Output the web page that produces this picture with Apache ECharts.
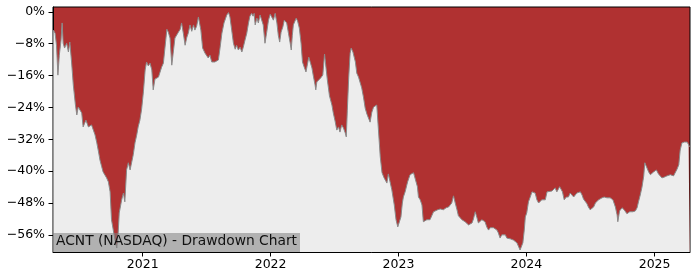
<!DOCTYPE html>
<html>
<head>
<meta charset="utf-8">
<script src="https://cdn.jsdelivr.net/npm/echarts@6/dist/echarts.min.js"></script>
<style>
html,body{margin:0;padding:0;background:#fff;}
#chart{width:700px;height:280px;}
</style>
</head>
<body>
<div id="chart"></div>
<script>
const titleText = 'ACNT (NASDAQ) - Drawdown Chart';
const yTicks = [0, -8, -16, -24, -32, -40, -48, -56];
const yearTicks = [2021, 2022, 2023, 2024, 2025];

const dates = [
'2020-04-21','2020-04-26','2020-04-30','2020-05-04','2020-05-08','2020-05-13','2020-05-16','2020-05-19','2020-05-23','2020-05-29',
'2020-06-03','2020-06-07','2020-06-12','2020-06-17','2020-06-23','2020-06-27','2020-07-01','2020-07-06','2020-07-11','2020-07-15',
'2020-07-23','2020-07-30','2020-08-08','2020-08-13','2020-08-18','2020-08-23','2020-08-28','2020-09-01','2020-09-06','2020-09-10',
'2020-09-15','2020-09-20','2020-09-25','2020-09-30','2020-10-04','2020-10-09','2020-10-14','2020-10-19','2020-10-21','2020-10-23',
'2020-10-26','2020-11-02','2020-11-07','2020-11-11','2020-11-16','2020-11-21','2020-11-26','2020-12-01','2020-12-05','2020-12-10',
'2020-12-15','2020-12-19','2020-12-24','2020-12-29','2021-01-03','2021-01-08','2021-01-12','2021-01-17','2021-01-22','2021-01-27',
'2021-01-31','2021-02-05','2021-02-10','2021-02-15','2021-02-19','2021-02-24','2021-03-01','2021-03-06','2021-03-11','2021-03-15',
'2021-03-20','2021-03-25','2021-03-29','2021-04-03','2021-04-08','2021-04-13','2021-04-18','2021-04-22','2021-04-27','2021-05-02',
'2021-05-07','2021-05-11','2021-05-16','2021-05-21','2021-05-26','2021-05-30','2021-06-04','2021-06-09','2021-06-12','2021-06-16',
'2021-06-21','2021-06-28','2021-07-03','2021-07-07','2021-07-12','2021-07-17','2021-07-22','2021-07-26','2021-07-31','2021-08-05',
'2021-08-10','2021-08-15','2021-08-21','2021-08-29','2021-09-03','2021-09-07','2021-09-12','2021-09-17','2021-09-22','2021-09-26',
'2021-10-01','2021-10-06','2021-10-11','2021-10-15','2021-10-20','2021-10-25','2021-10-30','2021-11-03','2021-11-08','2021-11-12',
'2021-11-15','2021-11-18','2021-11-23','2021-11-27','2021-12-02','2021-12-07','2021-12-11','2021-12-16','2021-12-21','2021-12-26',
'2021-12-31','2022-01-04','2022-01-09','2022-01-14','2022-01-19','2022-01-23','2022-01-27','2022-01-31','2022-02-05','2022-02-09',
'2022-02-16','2022-02-21','2022-02-26','2022-03-01','2022-03-04','2022-03-07','2022-03-15','2022-03-19','2022-03-24','2022-03-29',
'2022-04-02','2022-04-07','2022-04-12','2022-04-16','2022-04-20','2022-04-25','2022-04-29','2022-05-03','2022-05-08','2022-05-10',
'2022-05-13','2022-05-18','2022-05-24','2022-05-30','2022-06-04','2022-06-08','2022-06-12','2022-06-18','2022-06-25','2022-06-29',
'2022-07-04','2022-07-09','2022-07-14','2022-07-18','2022-07-23','2022-07-28','2022-08-02','2022-08-05','2022-08-08','2022-08-12',
'2022-08-16','2022-08-19','2022-08-24','2022-08-27','2022-08-31','2022-09-04','2022-09-09','2022-09-14','2022-09-18','2022-09-23',
'2022-09-28','2022-10-03','2022-10-07','2022-10-12','2022-10-17','2022-10-22','2022-10-26','2022-10-31','2022-11-05','2022-11-10',
'2022-11-15','2022-11-21','2022-11-29','2022-12-03','2022-12-07','2022-12-13','2022-12-20','2022-12-25','2022-12-30','2023-01-03',
'2023-01-08','2023-01-12','2023-01-15','2023-01-20','2023-01-27','2023-02-03','2023-02-08','2023-02-13','2023-02-18','2023-02-24',
'2023-02-27','2023-03-04','2023-03-09','2023-03-13','2023-03-18','2023-03-23','2023-03-28','2023-04-01','2023-04-06','2023-04-11',
'2023-04-16','2023-04-23','2023-04-30','2023-05-09','2023-05-17','2023-05-24','2023-05-29','2023-06-02','2023-06-07','2023-06-12',
'2023-06-17','2023-06-21','2023-06-26','2023-07-01','2023-07-10','2023-07-20','2023-07-25','2023-07-30','2023-08-03','2023-08-08',
'2023-08-13','2023-08-17','2023-08-22','2023-08-27','2023-09-01','2023-09-05','2023-09-10','2023-09-15','2023-09-20','2023-09-25',
'2023-09-29','2023-10-04','2023-10-09','2023-10-13','2023-10-18','2023-10-23','2023-10-28','2023-11-02','2023-11-06','2023-11-11',
'2023-11-16','2023-11-25','2023-11-30','2023-12-05','2023-12-10','2023-12-14','2023-12-19','2023-12-22','2023-12-26','2023-12-29',
'2024-01-02','2024-01-07','2024-01-12','2024-01-17','2024-01-21','2024-01-26','2024-01-31','2024-02-05','2024-02-10','2024-02-14',
'2024-02-24','2024-02-29','2024-03-04','2024-03-14','2024-03-19','2024-03-23','2024-03-28','2024-04-05','2024-04-09','2024-04-13',
'2024-04-18','2024-04-24','2024-04-30','2024-05-05','2024-05-10','2024-05-15','2024-05-20','2024-05-24','2024-05-29','2024-06-03',
'2024-06-08','2024-06-12','2024-06-17','2024-06-22','2024-06-26','2024-07-01','2024-07-06','2024-07-11','2024-07-16','2024-07-20',
'2024-07-25','2024-08-04','2024-08-10','2024-08-18','2024-08-27','2024-09-04','2024-09-11','2024-09-16','2024-09-18','2024-09-23',
'2024-09-30','2024-10-06','2024-10-14','2024-10-22','2024-10-31','2024-11-07','2024-11-12','2024-11-16','2024-11-21','2024-11-26',
'2024-12-01','2024-12-04','2024-12-08','2024-12-15','2024-12-20','2024-12-25','2024-12-29','2025-01-06','2025-01-12','2025-01-17',
'2025-01-22','2025-01-29','2025-02-05','2025-02-15','2025-02-24','2025-03-01','2025-03-06','2025-03-11','2025-03-15','2025-03-20',
'2025-03-27','2025-04-04','2025-04-08','2025-04-11'
];

const drawdown = [
-4.6,-5.4,-8.4,-15.9,-10.9,-7.1,-2.8,-7.9,-9.1,-7.9,
-10.1,-7.6,-12.6,-18.4,-23.4,-25.9,-23.9,-23.4,-25.4,-28.9,
-27.2,-28.9,-28.4,-28.9,-30.9,-32.9,-35.2,-37.2,-38.9,-40.2,
-40.4,-41.7,-42.7,-45.2,-52.2,-54.8,-57.3,-59.3,-59.8,-55.5,
-50.5,-47.2,-45.5,-47.7,-39.7,-37.9,-39.7,-39.7,-35.9,-32.9,
-30.9,-28.9,-27.2,-24.4,-20.1,-14.6,-12.6,-13.6,-12.9,-14.6,
-19.6,-16.9,-17.4,-16.4,-16.1,-13.9,-12.9,-12.6,-4.4,-5.1,
-6.6,-13.4,-10.4,-6.6,-6.1,-5.1,-4.4,-2.8,-5.4,-8.4,
-6.4,-5.4,-3.3,-4.9,-3.3,-4.6,-3.6,-1.3,-0.8,-4.6,
-9.1,-10.4,-10.9,-11.6,-10.9,-12.6,-13.1,-12.6,-12.9,-12.1,
-8.9,-5.4,-2.8,-0.8,-0.2,-1.3,-4.6,-7.9,-9.4,-8.4,
-9.6,-8.9,-10.1,-8.9,-7.1,-5.4,-2.8,-1.1,-0.4,-1.1,
-0.4,-3.3,-1.6,-2.8,-0.8,-0.5,-3.3,-7.9,-5.1,-2.1,
-0.6,-0.4,-2.1,-0.4,-2.8,-5.9,-7.6,-5.1,-3.8,-2.1,
-2.8,-5.4,-7.9,-9.6,-5.9,-3.3,-1.6,-2.3,-4.1,-7.9,
-12.6,-13.9,-15.1,-14.6,-11.4,-12.9,-14.1,-16.1,-18.4,-19.6,
-17.6,-17.1,-16.6,-15.9,-10.6,-13.9,-17.1,-21.1,-23.4,-25.4,
-27.4,-29.7,-28.9,-30.2,-28.4,-29.2,-30.4,-31.4,-24.7,-16.4,
-10.4,-9.1,-10.1,-9.6,-12.6,-15.4,-16.4,-17.9,-19.1,-21.4,
-24.2,-25.7,-25.4,-27.7,-25.2,-23.9,-23.4,-23.4,-23.9,-36.4,
-40.4,-41.7,-43.0,-40.7,-41.2,-44.7,-48.5,-52.2,-54.0,-54.5,
-51.5,-48.0,-46.5,-45.2,-42.7,-40.9,-40.4,-40.4,-40.9,-43.9,
-46.5,-47.2,-48.5,-52.7,-52.7,-52.2,-52.5,-52.2,-52.7,-50.2,
-49.7,-49.7,-49.5,-49.7,-49.2,-49.0,-48.5,-48.0,-46.2,-48.0,
-49.7,-51.2,-51.7,-52.2,-52.7,-53.5,-53.7,-53.0,-52.0,-50.2,
-51.7,-53.0,-52.7,-52.2,-51.7,-52.7,-54.0,-54.8,-54.2,-54.0,
-54.2,-54.2,-54.8,-55.5,-56.8,-56.0,-56.5,-56.0,-56.8,-57.3,
-57.0,-57.3,-57.8,-58.0,-58.5,-59.8,-59.8,-58.0,-54.8,-51.5,
-50.5,-47.7,-46.5,-45.2,-44.7,-45.5,-47.2,-48.0,-47.5,-47.2,
-47.2,-45.2,-44.7,-45.0,-44.7,-44.2,-45.2,-43.9,-43.5,-45.2,
-47.2,-46.5,-46.5,-45.5,-46.0,-46.5,-46.0,-45.5,-45.2,-45.2,
-46.0,-47.0,-47.2,-48.2,-49.0,-49.7,-50.2,-49.0,-48.0,-47.5,
-47.2,-46.7,-46.5,-46.7,-46.7,-47.2,-49.0,-51.0,-52.7,-50.0,
-49.2,-49.7,-50.7,-50.2,-50.2,-50.0,-49.2,-47.7,-46.0,-44.0,
-41.2,-37.9,-38.2,-40.2,-40.9,-40.7,-40.2,-39.7,-40.7,-41.2,
-41.7,-41.5,-41.2,-40.9,-41.2,-40.9,-39.5,-38.4,-34.7,-32.9,
-32.7,-32.7,-33.4,-33.9
];

function toTime(s) {
  const p = s.split('-').map(Number);
  return new Date(p[0], p[1] - 1, p[2]).getTime();
}

const xMin = toTime('2020-04-20');
const xMax = toTime('2025-04-12');
const yearTickValues = yearTicks.map(y => new Date(y, 0, 1).getTime());

const seriesData = dates.map((d, i) => [toTime(d), drawdown[i]]);

const chart = echarts.init(document.getElementById('chart'), null, {renderer: 'canvas'});
const FONT = 'DejaVu Sans';

chart.setOption({
  animation: false,
  backgroundColor: '#ffffff',
  grid: {
    left: 53, right: 10, top: 7, bottom: 28,
    show: true,
    backgroundColor: '#b03131',
    borderColor: '#000000',
    borderWidth: 1
  },
  xAxis: {
    type: 'value',
    min: xMin,
    max: xMax,
    axisLine: {show: true, onZero: false, lineStyle: {color: '#000', width: 1}},
    axisTick: {show: true, inside: false, length: 4.5, lineStyle: {color: '#000', width: 1}, customValues: yearTickValues},
    axisLabel: {
      show: true, margin: 6, color: '#000', fontFamily: FONT, fontSize: 12.5,
      customValues: yearTickValues,
      formatter: v => String(new Date(v).getFullYear())
    },
    splitLine: {show: false},
    minorTick: {show: false},
    minorSplitLine: {show: false}
  },
  yAxis: {
    type: 'value',
    min: -60.3,
    max: 1.2,
    axisLine: {show: true, onZero: false, lineStyle: {color: '#000', width: 1}},
    axisTick: {show: true, inside: false, length: 4.5, lineStyle: {color: '#000', width: 1}, customValues: yTicks},
    axisLabel: {
      show: true, margin: 8, color: '#000', fontFamily: FONT, fontSize: 12.5,
      customValues: yTicks,
      formatter: v => (v < 0 ? '\u2212' + Math.abs(v) : String(v)) + '%'
    },
    splitLine: {show: false}
  },
  series: [{
    type: 'line',
    data: seriesData,
    symbol: 'none',
    sampling: 'none',
    lineStyle: {color: '#8a8a8a', width: 1},
    areaStyle: {color: '#ededed', opacity: 1, origin: 'start'},
    z: 2
  }],
  graphic: [
    {type: 'rect', left: 53, top: 233, z: 100,
     shape: {width: 247, height: 19},
     style: {fill: 'rgba(128,128,128,0.55)'}},
    {type: 'text', left: 56, top: 234.5, z: 101,
     style: {text: titleText, fill: '#111', font: '13.8px "DejaVu Sans"'}}
  ]
});
</script>
</body>
</html>
